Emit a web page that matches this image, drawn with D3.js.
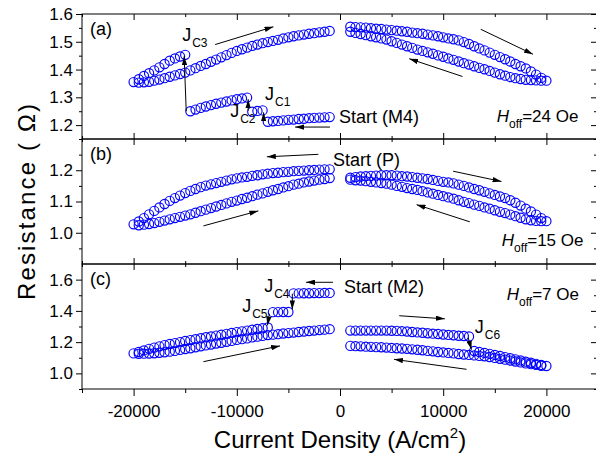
<!DOCTYPE html>
<html>
<head>
<meta charset="utf-8">
<script src="https://cdn.jsdelivr.net/npm/d3@7"></script>
<style>
  body { margin: 0; background: #fff; }
  text { font-family: "Liberation Sans", Arial, sans-serif; fill: #000; }
</style>
</head>
<body>
<svg id="chart" width="596" height="459"></svg>
<script>
// ---- axes ----
const xDomain = [-25000, 25000];
const xMajorTicks = [-20000, -10000, 0, 10000, 20000];
const xMinorTicks = [-25000, -15000, -5000, 5000, 15000, 25000];

const panelLabels = ["(a)", "(b)", "(c)"];
const yDomains = [[1.15, 1.6], [0.9, 1.3], [0.9, 1.7]];
const yMajorTicks = [[1.2, 1.3, 1.4, 1.5, 1.6], [1.0, 1.1, 1.2], [1.0, 1.2, 1.4, 1.6]];
const yMinorTicks = [[1.15, 1.25, 1.35, 1.45, 1.55], [0.95, 1.05, 1.15, 1.25], [0.9, 1.1, 1.3, 1.5]];

// ---- measured sweeps: each branch = [first current (A/cm^2), step, resistances (Ohm)] ----
// (a) Hoff = 24 Oe, starting in state M4
const aStart   = [-1000, -500, [1.229,1.228,1.227,1.226,1.225,1.223,1.222,1.220,1.219,1.217,1.215,1.214,1.212]];
const aJc1     = [-7500, -500, [1.253,1.251,1.248]];
const aJc2     = [-9000, -500, [1.299,1.296,1.293,1.289,1.285,1.281,1.277,1.272,1.267,1.262,1.256,1.250]];
const aJc3     = [-15000, -500, [1.453,1.447,1.440,1.432,1.420,1.408,1.397,1.387,1.377,1.365,1.355]];
const aNegBack = [-19500, 500, [1.353,1.354,1.356,1.360,1.364,1.369,1.374,1.379,1.384,1.389,1.397,1.405,1.413,1.420,1.428,1.436,1.444,1.452,1.460,1.467,1.473,1.479,1.485,1.490,1.495,1.499,1.503,1.507,1.512,1.516,1.520,1.523,1.526,1.529,1.531,1.534,1.536,1.539]];
const aPosOut  = [1000, 500, [1.554,1.553,1.552,1.551,1.549,1.547,1.546,1.544,1.542,1.540,1.538,1.536,1.533,1.531,1.529,1.526,1.523,1.520,1.516,1.512,1.509,1.505,1.499,1.492,1.484,1.476,1.469,1.461,1.453,1.445,1.437,1.429,1.420,1.412,1.404,1.393,1.382,1.370,1.360]];
const aPosBack = [19500, -500, [1.360,1.361,1.362,1.363,1.366,1.369,1.373,1.378,1.383,1.389,1.395,1.401,1.406,1.412,1.418,1.423,1.429,1.435,1.440,1.446,1.451,1.457,1.462,1.467,1.472,1.478,1.484,1.490,1.496,1.502,1.508,1.512,1.516,1.520,1.524,1.528,1.532,1.536]];

// (b) Hoff = 15 Oe, starting in state P
const bNegOut  = [-1000, -500, [1.203,1.203,1.202,1.201,1.200,1.199,1.198,1.197,1.195,1.194,1.192,1.191,1.189,1.187,1.184,1.182,1.179,1.177,1.174,1.171,1.167,1.163,1.159,1.155,1.151,1.146,1.140,1.134,1.127,1.119,1.111,1.102,1.092,1.081,1.070,1.059,1.047,1.036,1.027]];
const bNegBack = [-19500, 500, [1.024,1.026,1.028,1.031,1.035,1.039,1.043,1.047,1.051,1.055,1.059,1.064,1.069,1.074,1.079,1.084,1.089,1.094,1.099,1.103,1.108,1.112,1.117,1.122,1.126,1.131,1.136,1.140,1.145,1.149,1.154,1.157,1.161,1.164,1.167,1.170,1.172,1.175]];
const bPosOut  = [1000, 500, [1.176,1.178,1.180,1.181,1.182,1.183,1.184,1.184,1.184,1.183,1.181,1.180,1.178,1.176,1.174,1.172,1.169,1.166,1.163,1.161,1.158,1.154,1.150,1.145,1.140,1.136,1.131,1.126,1.121,1.116,1.111,1.104,1.096,1.087,1.077,1.068,1.058,1.047,1.037]];
const bPosBack = [19500, -500, [1.037,1.038,1.040,1.043,1.048,1.053,1.058,1.063,1.067,1.072,1.077,1.081,1.086,1.090,1.095,1.099,1.104,1.109,1.113,1.117,1.121,1.125,1.129,1.133,1.137,1.140,1.143,1.147,1.150,1.154,1.157,1.159,1.161,1.163,1.165,1.167,1.168,1.170]];

// (c) Hoff = 7 Oe, starting in state M2
const cStart   = [-1000, -500, [1.515,1.515,1.514,1.514,1.513,1.513,1.512,1.512]];
const cJc4     = [-5000, -500, [1.393,1.393,1.392,1.392]];
const cJc5     = [-7000, -500, [1.294,1.289,1.284,1.279,1.274,1.269,1.264,1.259,1.253,1.247,1.242,1.236,1.231,1.225,1.219,1.213,1.207,1.200,1.194,1.188,1.181,1.173,1.165,1.157,1.147,1.137,1.128]];
const cNegBack = [-19500, 500, [1.125,1.126,1.127,1.129,1.132,1.135,1.139,1.144,1.150,1.156,1.161,1.167,1.173,1.179,1.185,1.191,1.196,1.202,1.208,1.214,1.219,1.224,1.230,1.235,1.240,1.245,1.248,1.251,1.255,1.258,1.261,1.265,1.268,1.271,1.274,1.277,1.280,1.283]];
const cPosOut  = [1000, 500, [1.274,1.274,1.274,1.274,1.274,1.274,1.274,1.274,1.273,1.272,1.270,1.268,1.265,1.262,1.260,1.257,1.254,1.252,1.249,1.246,1.244,1.241,1.239,1.236]];
const cJc6     = [13000, 500, [1.143,1.137,1.131,1.125,1.118,1.111,1.104,1.097,1.090,1.083,1.075,1.068,1.061,1.054,1.047]];
const cPosBack = [19500, -500, [1.049,1.054,1.059,1.064,1.070,1.076,1.082,1.088,1.093,1.099,1.105,1.109,1.112,1.115,1.118,1.121,1.124,1.128,1.131,1.134,1.137,1.141,1.144,1.148,1.151,1.154,1.157,1.159,1.161,1.163,1.165,1.167,1.168,1.170,1.171,1.173,1.174,1.176]];

const panelBranches = [
  [aStart, aJc1, aJc2, aJc3, aNegBack, aPosOut, aPosBack],
  [bNegOut, bNegBack, bPosOut, bPosBack],
  [cStart, cJc4, cJc5, cNegBack, cPosOut, cJc6, cPosBack]
];

// ---- sweep-direction and switching arrows: [J1, R1, J2, R2], head at the second point ----
const panelArrows = [
  [[-12100,1.490,-6450,1.554], [-970,1.193,-4350,1.193], [13640,1.545,18700,1.455], [11870,1.375,6710,1.439],
   [-7400,1.216,-7400,1.246], [-8900,1.252,-8900,1.293], [-14900,1.250,-15100,1.448]],
  [[-2100,1.251,-7090,1.243], [-13230,1.022,-7910,1.070], [10960,1.197,15650,1.164], [12580,1.035,7420,1.090]],
  [[-680,1.583,-3290,1.583], [-13230,1.075,-5810,1.176], [5740,1.369,10160,1.349], [12260,1.026,5230,1.090],
   [12420,1.229,12740,1.152], [-4620,1.510,-4620,1.409], [-6840,1.382,-7030,1.307]]
];

// ---- text annotations: [J, R, main, subscript] ----
const panelNotes = [
  [[-15290,1.502,"J","C3"], [-10640,1.228,"J","C2"], [-7260,1.289,"J","C1"], [-100,1.206,"Start (M4)",""]],
  [[-680,1.213,"Start (P)",""]],
  [[390,1.514,"Start (M2)",""], [-7350,1.523,"J","C4"], [-9480,1.395,"J","C5"], [13060,1.256,"J","C6"]]
];
const fieldLabels = [[15190,1.213,"=24 Oe"], [15680,0.959,"=15 Oe"], [16160,1.470,"=7 Oe"]];

// ---- layout ----
const svg = d3.select("#chart");
const left = 82, right = 598;
const panelTop = [14, 139, 264];
const panelBottom = [139, 264, 389];
const tickFont = 17;

const x = d3.scaleLinear().domain(xDomain).range([left, right]);

svg.append("defs").append("marker")
  .attr("id", "head").attr("viewBox", "0 0 10 6")
  .attr("refX", 10).attr("refY", 3)
  .attr("markerWidth", 9).attr("markerHeight", 5.4)
  .attr("markerUnits", "userSpaceOnUse")
  .attr("orient", "auto")
  .append("path").attr("d", "M0,0 L10,3 L0,6 Z").attr("fill", "#000");

const tickStyle = g => {
  g.select(".domain").remove();
  g.selectAll("line").attr("stroke", "#000").attr("stroke-width", 1);
  g.selectAll("text").attr("font-size", tickFont).attr("font-family", "Liberation Sans, Arial, sans-serif");
};

panelLabels.forEach((lab, i) => {
  const y = d3.scaleLinear().domain(yDomains[i]).range([panelBottom[i], panelTop[i]]);
  const g = svg.append("g");

  // data: open circles
  const pts = [];
  panelBranches[i].forEach(([j0, step, rs]) => rs.forEach((r, k) => pts.push([j0 + k * step, r])));
  g.append("g").selectAll("circle").data(pts).join("circle")
    .attr("cx", d => x(d[0])).attr("cy", d => y(d[1])).attr("r", 4.6)
    .attr("fill", "none").attr("stroke", "#0000ff").attr("stroke-width", 1.15);

  // arrows
  g.append("g").selectAll("line").data(panelArrows[i]).join("line")
    .attr("x1", d => x(d[0])).attr("y1", d => y(d[1]))
    .attr("x2", d => x(d[2])).attr("y2", d => y(d[3]))
    .attr("stroke", "#000").attr("stroke-width", 1)
    .attr("marker-end", "url(#head)");

  // annotations
  panelNotes[i].forEach(([j, r, main, sub]) => {
    const t = g.append("text").attr("x", x(j)).attr("y", y(r)).attr("font-size", 18);
    t.append("tspan").text(main);
    if (sub) t.append("tspan").attr("font-size", 12).attr("dy", 6).attr("dx", 1).text(sub);
  });
  const [fj, fr, ftxt] = fieldLabels[i];
  const ft = g.append("text").attr("x", x(fj)).attr("y", y(fr)).attr("font-size", 17);
  ft.append("tspan").attr("font-style", "italic").text("H");
  ft.append("tspan").attr("font-size", 12).attr("dy", 6).text("off");
  ft.append("tspan").attr("dy", -6).text(ftxt);

  g.append("text").attr("x", left + 8).attr("y", panelTop[i] + 21).attr("font-size", 18).text(lab);

  // left axis
  svg.append("g").attr("transform", `translate(${left},0)`)
    .call(d3.axisLeft(y).tickValues(yMajorTicks[i]).tickSize(6).tickPadding(3).tickFormat(d3.format(".1f")))
    .call(tickStyle);
  svg.append("g").attr("transform", `translate(${left},0)`)
    .call(d3.axisLeft(y).tickValues(yMinorTicks[i]).tickSize(3).tickFormat(""))
    .call(tickStyle);
  // right axis (ticks inward)
  svg.append("g").attr("transform", `translate(${right - 1},0)`)
    .call(d3.axisRight(y).tickValues(yMajorTicks[i]).tickSize(-6).tickFormat(""))
    .call(tickStyle);
  svg.append("g").attr("transform", `translate(${right - 1},0)`)
    .call(d3.axisRight(y).tickValues(yMinorTicks[i]).tickSize(-3).tickFormat(""))
    .call(tickStyle);
  // top axis (ticks inward)
  svg.append("g").attr("transform", `translate(0,${panelTop[i]})`)
    .call(d3.axisTop(x).tickValues(xMajorTicks).tickSize(-6).tickFormat(""))
    .call(tickStyle);
  svg.append("g").attr("transform", `translate(0,${panelTop[i]})`)
    .call(d3.axisTop(x).tickValues(xMinorTicks).tickSize(-3).tickFormat(""))
    .call(tickStyle);
  if (i < 2) {
    svg.append("g").attr("transform", `translate(0,${panelBottom[i]})`)
      .call(d3.axisBottom(x).tickValues(xMajorTicks).tickSize(-6).tickFormat(""))
      .call(tickStyle);
    svg.append("g").attr("transform", `translate(0,${panelBottom[i]})`)
      .call(d3.axisBottom(x).tickValues(xMinorTicks).tickSize(-3).tickFormat(""))
      .call(tickStyle);
  } else {
    svg.append("g").attr("transform", `translate(0,${panelBottom[i]})`)
      .call(d3.axisBottom(x).tickValues(xMajorTicks).tickSize(7).tickPadding(9).tickFormat(d => String(d)))
      .call(tickStyle);
    svg.append("g").attr("transform", `translate(0,${panelBottom[i]})`)
      .call(d3.axisBottom(x).tickValues(xMinorTicks).tickSize(4).tickFormat(""))
      .call(tickStyle);
  }

  // frame
  svg.append("rect").attr("x", left).attr("y", panelTop[i])
    .attr("width", right - left).attr("height", panelBottom[i] - panelTop[i])
    .attr("fill", "none").attr("stroke", "#000").attr("stroke-width", 1);
});

// axis titles
const xt = svg.append("text").attr("x", 340).attr("y", 448)
  .attr("text-anchor", "middle").attr("font-size", 24);
xt.append("tspan").text("Current Density (A/cm");
xt.append("tspan").attr("font-size", 15).attr("dy", -10).text("2");
xt.append("tspan").attr("dy", 10).text(")");

svg.append("text").attr("transform", "translate(35,202) rotate(-90)")
  .attr("text-anchor", "middle").attr("font-size", 24)
  .attr("textLength", 196).attr("lengthAdjust", "spacing")
  .text("Resistance ( Ω)");
</script>
</body>
</html>
